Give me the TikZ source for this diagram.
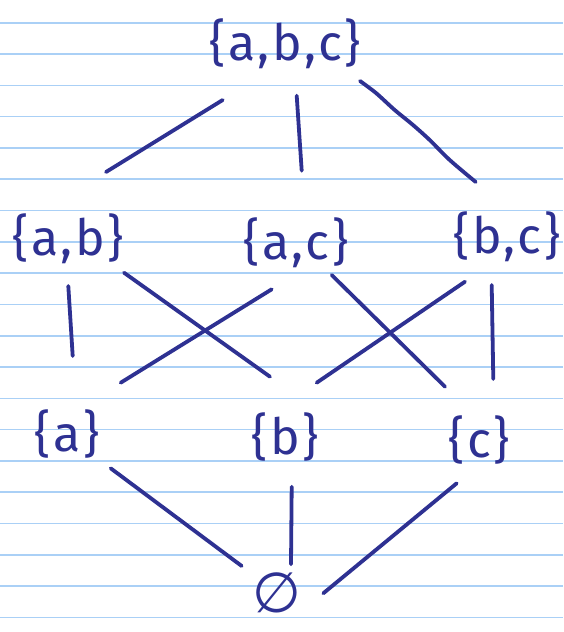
\documentclass[tikz,border=0pt]{standalone}
\usepackage{fontspec}
\setmainfont{Fira Sans}[LetterSpace=5]
\newfontfamily\symfont{DejaVu Sans}
\begin{document}
\begin{tikzpicture}[x=1pt,y=-1pt]
\definecolor{ink}{RGB}{46,49,146}
\definecolor{rulecol}{RGB}{170,208,246}
\tikzset{
  setlabel/.style={text=ink, font=\fontsize{50}{60}\selectfont, inner sep=0pt, anchor=center},
  edge/.style={draw=ink, line width=3.8pt, line cap=round, line join=round},
  ruled/.style={draw=rulecol, line width=1.6pt}
}
\fill[white] (0,0) rectangle (563,632);
\useasboundingbox (0,0) rectangle (563,632);
\foreach \k in {0,...,19} \draw[ruled] (0,{22.7+31.3*\k}) -- (563,{22.7+31.3*\k});

\node[setlabel] (abc) at (285,44) {\{a,b,c\}};
\node[setlabel] (ab) at (68,239) {\{a,b\}};
\node[setlabel] (ac) at (296,243) {\{a,c\}};
\node[setlabel] (bc) at (507,237) {\{b,c\}};
\node[setlabel] (a) at (67,434) {\{a\}};
\node[setlabel] (b) at (285,437) {\{b\}};
\node[setlabel] (c) at (479,440) {\{c\}};
\node[setlabel, font=\symfont\fontsize{56}{62}\selectfont] (e) at (277,593) {∅};

% edge end points
\coordinate (abc-ab1) at (222.7,100);  \coordinate (abc-ab2) at (106,172);
\coordinate (abc-ac1) at (296.7,95.7); \coordinate (abc-ac2) at (301.7,170.7);
\coordinate (abc-bc1) at (360,81);     \coordinate (abc-bc2) at (475.7,182);
\coordinate (ab-a1) at (68.3,286);     \coordinate (ab-a2) at (72.7,356);
\coordinate (ab-b1) at (124,272.7);    \coordinate (ab-b2) at (270,376.7);
\coordinate (ac-a1) at (271.7,289.3);  \coordinate (ac-a2) at (120.7,382.7);
\coordinate (ac-c1) at (331.7,275);    \coordinate (ac-c2) at (445,386.7);
\coordinate (bc-b1) at (465,281.7);    \coordinate (bc-b2) at (316.7,382.7);
\coordinate (bc-c1) at (491.7,285);    \coordinate (bc-c2) at (493.3,379);
\coordinate (a-e1) at (110.7,468.3);   \coordinate (a-e2) at (241.7,566);
\coordinate (b-e1) at (291.7,486.7);   \coordinate (b-e2) at (291,564.3);
\coordinate (c-e1) at (456.7,483.3);   \coordinate (c-e2) at (323.3,593.3);

\draw[edge] (abc-ab1) -- (abc-ab2);
\draw[edge] (abc-ac1) -- (abc-ac2);
\draw[edge] plot[smooth] coordinates {(abc-bc1) (376,93) (394.7,110) (413,125) (429.7,140) (449.7,160) (abc-bc2)};
\draw[edge] (ab-a1) -- (ab-a2);
\draw[edge] (ab-b1) -- (ab-b2);
\draw[edge] (ac-a1) -- (ac-a2);
\draw[edge] (ac-c1) -- (ac-c2);
\draw[edge] (bc-b1) -- (bc-b2);
\draw[edge] (bc-c1) -- (bc-c2);
\draw[edge] (a-e1) -- (a-e2);
\draw[edge] (b-e1) -- (b-e2);
\draw[edge] (c-e1) -- (c-e2);
\end{tikzpicture}
\end{document}
